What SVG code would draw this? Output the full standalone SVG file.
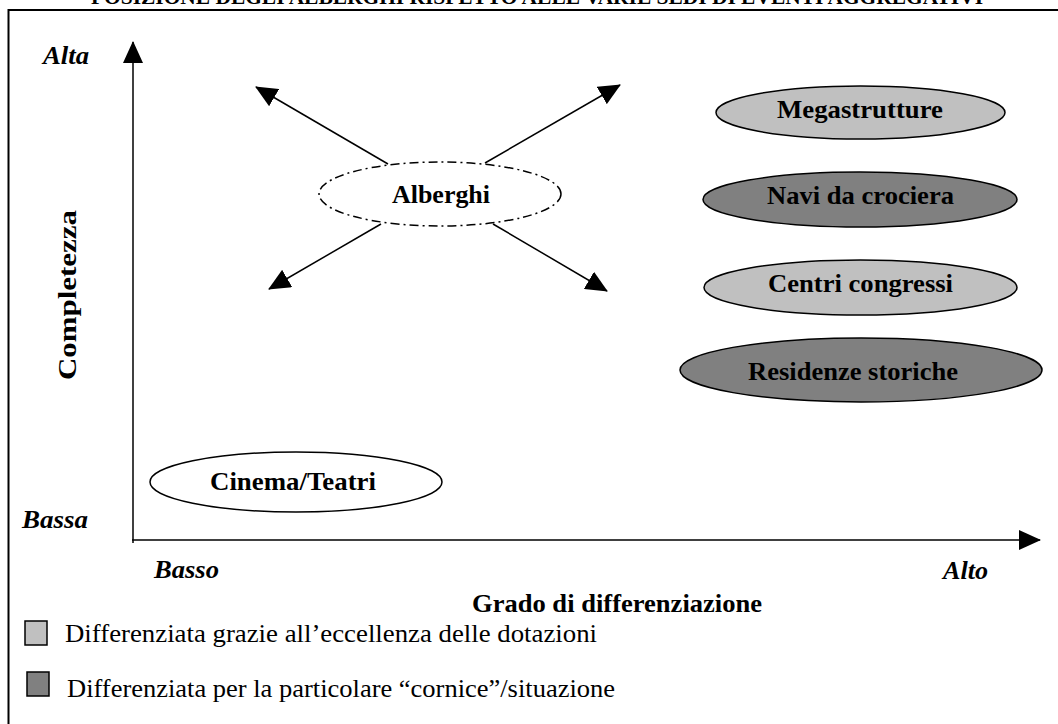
<svg xmlns="http://www.w3.org/2000/svg" width="1058" height="724" viewBox="0 0 1058 724">
  <style>
    .lbl { font-family: "Liberation Serif", "Times New Roman", serif; font-weight: bold; font-size: 26px; fill: #000; }
    .axlbl { font-family: "Liberation Serif", "Times New Roman", serif; font-weight: bold; font-style: italic; font-size: 26px; fill: #000; }
    .leg { font-family: "Liberation Serif", "Times New Roman", serif; font-size: 26px; fill: #000; }
    .title { font-family: "Liberation Serif", "Times New Roman", serif; font-weight: bold; font-size: 20px; fill: #000; }
    .node { stroke: #000; stroke-width: 1.5; }
    .light { fill: #c0c0c0; }
    .dark { fill: #808080; }
    .plain { fill: #fff; }
    .conn { stroke: #000; stroke-width: 1.5; fill: none; }
    .frame { stroke: #000; stroke-width: 2; fill: none; }
  </style>
  <defs>
    <marker id="head" viewBox="0 0 22 20" refX="21" refY="10" markerWidth="22" markerHeight="20" markerUnits="userSpaceOnUse" orient="auto">
      <path d="M0,0 L22,10 L0,20 Z" fill="#000"/>
    </marker>
  </defs>

  <rect width="1058" height="724" fill="#fff"/>

  <!-- page title, partly cut by the top edge -->
  <text class="title" x="537" y="4" text-anchor="middle" textLength="892" lengthAdjust="spacingAndGlyphs">POSIZIONE DEGLI ALBERGHI RISPETTO ALLE VARIE SEDI DI EVENTI AGGREGATIVI</text>

  <!-- outer frame -->
  <path class="frame" d="M8.5,724 V10 H1058"/>

  <!-- axes and arrows -->
  <g id="connectors">
    <line class="conn" x1="133" y1="543" x2="133" y2="42" marker-end="url(#head)"/>
    <line class="conn" x1="132" y1="540" x2="1040" y2="540" marker-end="url(#head)"/>
    <line class="conn" x1="388" y1="164" x2="256" y2="87" marker-end="url(#head)"/>
    <line class="conn" x1="485" y1="163" x2="620" y2="85" marker-end="url(#head)"/>
    <line class="conn" x1="381" y1="224" x2="269" y2="289" marker-end="url(#head)"/>
    <line class="conn" x1="493" y1="224" x2="607" y2="291" marker-end="url(#head)"/>
  </g>

  <!-- axis labels -->
  <g id="axis-labels">
    <text class="axlbl" x="43" y="64" textLength="46" lengthAdjust="spacingAndGlyphs">Alta</text>
    <text class="axlbl" x="22" y="528" textLength="66" lengthAdjust="spacingAndGlyphs">Bassa</text>
    <text class="axlbl" x="154" y="578" textLength="65" lengthAdjust="spacingAndGlyphs">Basso</text>
    <text class="axlbl" x="943" y="579" textLength="45" lengthAdjust="spacingAndGlyphs">Alto</text>
    <text class="lbl" x="617" y="612" text-anchor="middle" textLength="290" lengthAdjust="spacingAndGlyphs">Grado di differenziazione</text>
    <text class="lbl" transform="translate(76,295) rotate(-90)" text-anchor="middle" font-size="28" textLength="170" lengthAdjust="spacingAndGlyphs">Completezza</text>
  </g>

  <g id="alberghi">
    <ellipse class="node plain" cx="440" cy="194" rx="121" ry="32" stroke-dasharray="9 4 2 4"/>
    <text class="lbl" x="441" y="203" text-anchor="middle" textLength="98" lengthAdjust="spacingAndGlyphs">Alberghi</text>
  </g>

  <g id="megastrutture">
    <ellipse class="node light" cx="860.5" cy="112.5" rx="144.5" ry="26.5"/>
    <text class="lbl" x="860" y="118" text-anchor="middle" textLength="166" lengthAdjust="spacingAndGlyphs">Megastrutture</text>
  </g>

  <g id="navi-da-crociera">
    <ellipse class="node dark" cx="860" cy="199.5" rx="157" ry="27.5"/>
    <text class="lbl" x="860.5" y="204" text-anchor="middle" textLength="187" lengthAdjust="spacingAndGlyphs">Navi da crociera</text>
  </g>

  <g id="centri-congressi">
    <ellipse class="node light" cx="860.5" cy="287.5" rx="156.5" ry="27.5"/>
    <text class="lbl" x="860.5" y="292" text-anchor="middle" textLength="185" lengthAdjust="spacingAndGlyphs">Centri congressi</text>
  </g>

  <g id="residenze-storiche">
    <ellipse class="node dark" cx="861" cy="370" rx="181" ry="32"/>
    <text class="lbl" x="853" y="380" text-anchor="middle" textLength="210" lengthAdjust="spacingAndGlyphs">Residenze storiche</text>
  </g>

  <g id="cinema-teatri">
    <ellipse class="node plain" cx="296" cy="482" rx="146" ry="30"/>
    <text class="lbl" x="293" y="490" text-anchor="middle" textLength="166" lengthAdjust="spacingAndGlyphs">Cinema/Teatri</text>
  </g>

  <!-- legend -->
  <g id="legend-excellence">
    <rect class="node light" x="25" y="621" width="22" height="24"/>
    <text class="leg" x="65" y="642" textLength="532" lengthAdjust="spacingAndGlyphs">Differenziata grazie all’eccellenza delle dotazioni</text>
  </g>
  <g id="legend-setting">
    <rect class="node dark" x="27" y="672" width="22" height="24"/>
    <text class="leg" x="67" y="697" textLength="548" lengthAdjust="spacingAndGlyphs">Differenziata per la particolare “cornice”/situazione</text>
  </g>
</svg>
